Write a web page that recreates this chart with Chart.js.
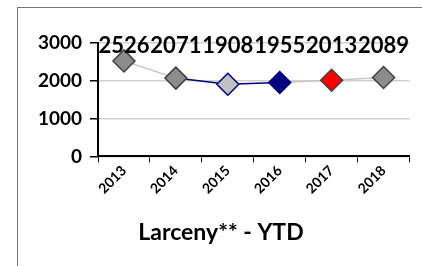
<!DOCTYPE html>
<html>
<head>
<meta charset="utf-8">
<script src="https://cdn.jsdelivr.net/npm/chart.js@4"></script>
<style>
  body { margin: 0; background: white; }
  #wrap { position: relative; width: 422px; height: 266px; overflow: hidden; }
  #frame { position: absolute; left: 17px; top: 7px; width: 420px; height: 270px; border: 1px solid #777; box-sizing: border-box; }
  canvas { position: absolute; left: 0; top: 0; }
</style>
</head>
<body>
<div id="wrap">
  <div id="frame"></div>
  <canvas id="myChart" width="422" height="266"></canvas>
</div>
<script>
const years = ["2013", "2014", "2015", "2016", "2017", "2018"];
const larceny = [2526, 2071, 1908, 1955, 2013, 2089];
const pointFill = ["#8c8c8c", "#8c8c8c", "#c0c0c0", "#000080", "#ff0000", "#8c8c8c"];
const pointEdge = ["#404040", "#404040", "#000080", "#000080", "#404040", "#404040"];
const segColors = ["#c8c8c8", "#000080", "#000080", "#c8c8c8", "#c8c8c8"];
const yTicks = [0, 1000, 2000, 3000];

const fuente = "Lato, 'Open Sans', sans-serif";

// etiquetas de valores arriba del grafico
const etiquetas = {
    id: "etiquetas",
    afterDatasetsDraw(chart) {
        const ctx = chart.ctx;
        const meta = chart.getDatasetMeta(0);
        ctx.save();
        ctx.font = "bold 22px " + fuente;
        ctx.fillStyle = "#000";
        ctx.textAlign = "center";
        ctx.textBaseline = "middle";
        meta.data.forEach((p, i) => {
            ctx.fillText(String(larceny[i]), p.x, chart.chartArea.top + 3);
        });
        ctx.restore();
    }
};

const config = {
    type: "line",
    data: {
        labels: years,
        datasets: [{
            data: larceny,
            borderWidth: 1.5,
            borderColor: "#c8c8c8",
            segment: {
                borderColor: c => segColors[c.p0DataIndex]
            },
            pointStyle: "rectRot",
            pointRadius: 11,
            pointHoverRadius: 11,
            pointBackgroundColor: pointFill,
            pointBorderColor: pointEdge,
            pointBorderWidth: 1.5
        }]
    },
    options: {
        responsive: false,
        animation: false,
        layout: { padding: { top: 43, right: 4, left: 24, bottom: 0 } },
        plugins: {
            legend: { display: false },
            tooltip: { enabled: false },
            title: {
                display: true,
                position: "bottom",
                text: "Larceny** - YTD",
                color: "#000",
                font: { family: fuente, size: 23, weight: "bold" },
                padding: { top: 2, bottom: 20 }
            }
        },
        scales: {
            x: {
                offset: true,
                afterFit: s => { s.height = 60; },
                border: { color: "#000", width: 2 },
                grid: { drawOnChartArea: false, drawTicks: true, tickLength: 6, color: "#000", offset: true },
                ticks: {
                    color: "#000",
                    maxRotation: 45,
                    minRotation: 45,
                    padding: 0,
                    font: { family: fuente, size: 14, weight: "bold" }
                }
            },
            y: {
                min: 0,
                max: 3000,
                afterFit: s => { s.width = 74; },
                afterBuildTicks: s => { s.ticks = yTicks.map(v => ({ value: v })); },
                border: { color: "#000", width: 2 },
                grid: { color: "#d0d0d0", lineWidth: 1.5, tickColor: "#000", tickLength: 8 },
                ticks: {
                    color: "#000",
                    padding: 8,
                    callback: v => String(v),
                    font: { family: fuente, size: 19, weight: "bold" }
                }
            }
        }
    },
    plugins: [etiquetas]
};

new Chart(document.getElementById("myChart"), config);
</script>
</body>
</html>
